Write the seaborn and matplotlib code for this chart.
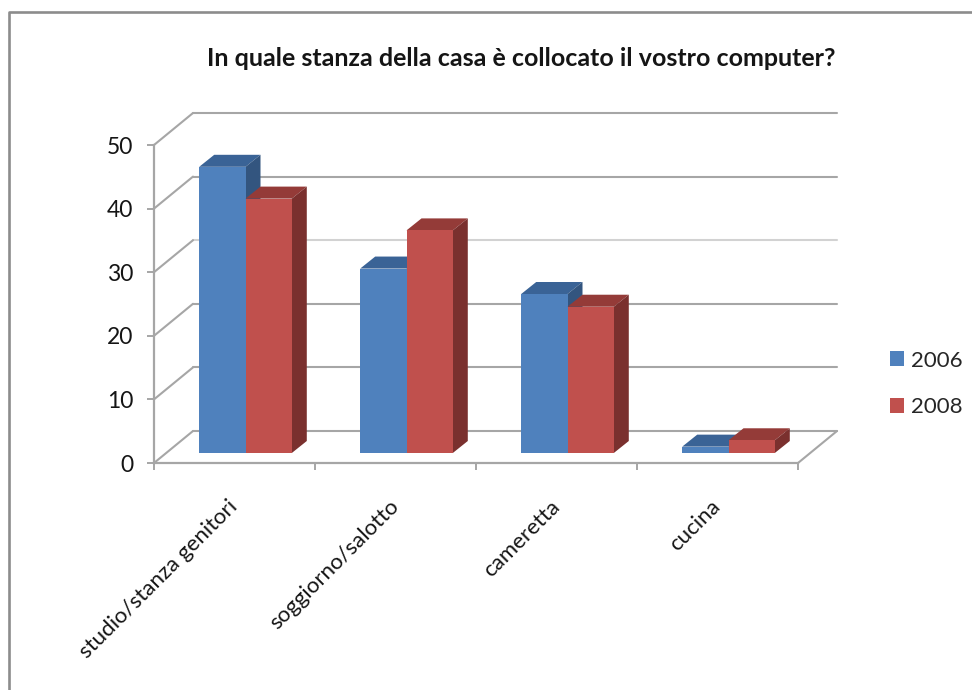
"""Room-of-the-computer survey chart, 2006 vs 2008, in the old 3D column look."""

import matplotlib
matplotlib.use("Agg")
import matplotlib.pyplot as plt
import pandas as pd
import seaborn as sns
from matplotlib.lines import Line2D
from matplotlib.patches import Polygon
from matplotlib.transforms import Affine2D, IdentityTransform

TITLE = "In quale stanza della casa è collocato il vostro computer?"
CATEGORIES = ["studio/stanza genitori", "soggiorno/salotto", "cameretta", "cucina"]
VALUES_2006 = [45, 29, 25, 1]
VALUES_2008 = [40, 35, 23, 2]
YEARS = ["2006", "2008"]
Y_TICKS = [0, 10, 20, 30, 40, 50]

PALETTE = {"2006": "#4f81bd", "2008": "#c0504d"}
TOP_COLORS = {"2006": "#3a6396", "2008": "#943b38"}
SIDE_COLORS = {"2006": "#33557f", "2008": "#7a302e"}
GRID = "#a6a6a6"
GRID_LIGHT = "#d2d2d2"
TEXT = "#151515"
W, H = 972, 690

# pixel offsets of the fake depth
WALL_DX, WALL_DY = 39, 32
BAR_DX, BAR_DY = 11, 10
DEPTH_DX, DEPTH_DY = 15, 12

sns.set_style("white")
plt.rcParams["font.family"] = ["Lato", "DejaVu Sans"]


def draw_walls(ax):
    back = ax.transData + Affine2D().translate(WALL_DX, WALL_DY)
    for y in Y_TICKS:
        color = GRID_LIGHT if y == 30 else GRID
        ax.plot([-0.5, 3.5], [y, y], transform=back, color=color, lw=1.5, clip_on=False, zorder=1)
        x0, y0 = ax.transData.transform((-0.5, y))
        ax.plot([x0, x0 + WALL_DX], [y0, y0 + WALL_DY], transform=IdentityTransform(),
                color=GRID, lw=1.5, clip_on=False, zorder=1)
    x1, y1 = ax.transData.transform((3.5, 0))
    ax.plot([x1, x1 + WALL_DX], [y1, y1 + WALL_DY], transform=IdentityTransform(),
            color=GRID, lw=1.5, clip_on=False, zorder=1)


def add_depth(ax):
    shift = ax.transData + Affine2D().translate(BAR_DX, BAR_DY)
    bars = [b for b in ax.patches if b.get_height() > 0]
    for bar in bars:
        year = YEARS[0] if bar.get_facecolor()[0] < 0.5 else YEARS[1]
        xl = bar.get_x()
        xr = xl + bar.get_width()
        (px0, py0), (px1, py1) = shift.transform([(xl, 0), (xr, bar.get_height())])
        z = 3 + xl
        if year == YEARS[1]:
            z += 0.01
        bar.set_transform(shift)
        bar.set_clip_on(False)
        bar.set_linewidth(0)
        bar.set_zorder(z + 0.002)
        top = [(px0, py1), (px1, py1), (px1 + DEPTH_DX, py1 + DEPTH_DY), (px0 + DEPTH_DX, py1 + DEPTH_DY)]
        side = [(px1, py0), (px1 + DEPTH_DX, py0 + DEPTH_DY), (px1 + DEPTH_DX, py1 + DEPTH_DY), (px1, py1)]
        ax.add_patch(Polygon(top, closed=True, transform=IdentityTransform(), facecolor=TOP_COLORS[year],
                             edgecolor="none", clip_on=False, zorder=z))
        ax.add_patch(Polygon(side, closed=True, transform=IdentityTransform(), facecolor=SIDE_COLORS[year],
                             edgecolor="none", clip_on=False, zorder=z))


def main():
    df = pd.DataFrame({
        "stanza": CATEGORIES * 2,
        "anno": [YEARS[0]] * 4 + [YEARS[1]] * 4,
        "valore": VALUES_2006 + VALUES_2008,
    })

    fig = plt.figure(figsize=(W / 100, H / 100), dpi=100, facecolor="white")
    ax = fig.add_axes([154 / W, 1 - 463 / H, 644 / W, 318 / H])
    ax.patch.set_alpha(0)
    sns.barplot(data=df, x="stanza", y="valore", hue="anno", palette=PALETTE, hue_order=YEARS,
                order=CATEGORIES, width=0.575, gap=0, saturation=1, errorbar=None, ax=ax)
    ax.set_xlim(-0.5, 3.5)
    ax.set_ylim(0, 50)
    ax.set_xlabel("")
    ax.set_ylabel("")

    draw_walls(ax)
    add_depth(ax)

    for side in ["top", "right"]:
        ax.spines[side].set_visible(False)
    for side in ["left", "bottom"]:
        ax.spines[side].set_color(GRID)
        ax.spines[side].set_linewidth(1.6)

    ax.set_yticks(Y_TICKS)
    ax.tick_params(axis="y", left=True, length=5, width=1.4, color=GRID, pad=10, labelsize=16.5, labelcolor=TEXT)
    ax.set_xticks(range(len(CATEGORIES)))
    ax.set_xticklabels(CATEGORIES, rotation=45, ha="right", va="top", rotation_mode="anchor")
    ax.tick_params(axis="x", bottom=False, pad=20.5, labelsize=16, labelcolor=TEXT)
    for label in ax.get_xticklabels():
        label.set_transform(label.get_transform() + Affine2D().translate(-7, 0))
    ax.set_xticks([-0.5, 0.5, 1.5, 2.5, 3.5], minor=True)
    ax.tick_params(axis="x", which="minor", bottom=True, length=5, width=1.4, color=GRID)

    handles = [plt.Rectangle((0, 0), 1, 1, facecolor=PALETTE[y], edgecolor="none") for y in YEARS]
    ax.legend(handles, YEARS, frameon=False, fontsize=16, loc="center left",
              bbox_to_anchor=(890 / W, 1 - 384 / H), bbox_transform=fig.transFigure,
              handlelength=0.65, handleheight=0.65, handletextpad=0.3, labelspacing=1.2,
              borderpad=0, borderaxespad=0)

    fig.text(521 / W, 1 - 58 / H, TITLE, ha="center", va="center", fontsize=18, fontweight="bold", color=TEXT)

    fig.add_artist(Line2D([9 / W, 9 / W, 1], [0, 1 - 12 / H, 1 - 12 / H], transform=fig.transFigure,
                          color="#8c8c8c", lw=1.9))

    fig.savefig("out.png", dpi=100)
    plt.close(fig)


if __name__ == "__main__":
    main()
